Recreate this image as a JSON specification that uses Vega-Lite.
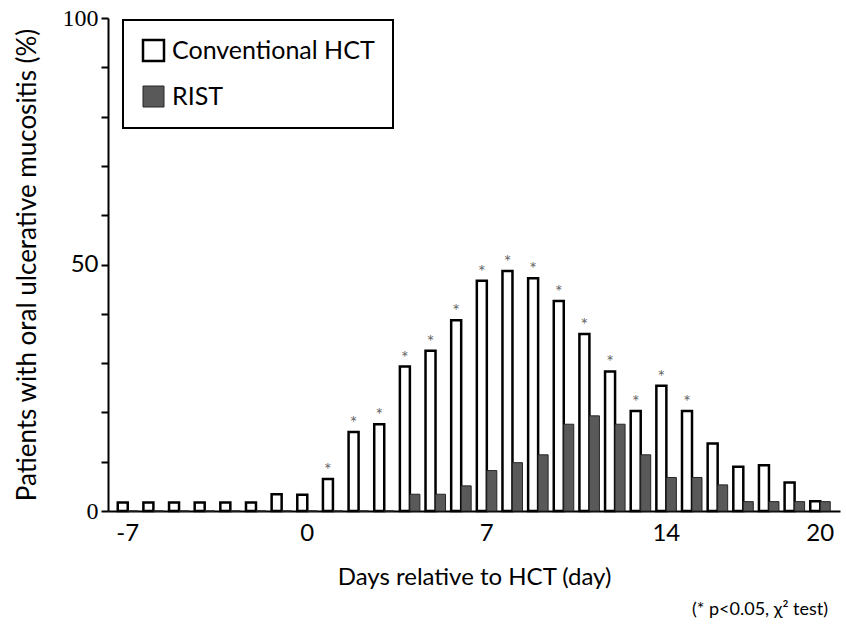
{
  "$schema": "https://vega.github.io/schema/vega-lite/v6.json",
  "width": 732,
  "height": 493,
  "autosize": {"type": "none"},
  "padding": {"left": 108, "top": 18, "right": 6, "bottom": 114},
  "background": "white",
  "title": {"text": "(* p<0.05, χ² test)", "orient": "bottom", "anchor": "end", "font": "Lato", "fontSize": 18, "fontWeight": "normal", "color": "black", "offset": 12, "dx": -12},
  "config": {
    "view": {"stroke": null},
    "legend": {"strokeWidth": 2},
    "axis": {"grid": false, "domainColor": "black", "domainWidth": 2, "labelColor": "black", "titleColor": "black", "titleFont": "Lato", "titleFontWeight": "normal"},
    "axisY": {"ticks": true, "tickSize": 7, "tickWidth": 2, "tickColor": "black"}
  },
  "data": {"values": [
    {"day": -7, "series": "Conventional HCT", "value": 1.7, "sig": false},
    {"day": -6, "series": "Conventional HCT", "value": 1.7, "sig": false},
    {"day": -5, "series": "Conventional HCT", "value": 1.7, "sig": false},
    {"day": -4, "series": "Conventional HCT", "value": 1.7, "sig": false},
    {"day": -3, "series": "Conventional HCT", "value": 1.7, "sig": false},
    {"day": -2, "series": "Conventional HCT", "value": 1.7, "sig": false},
    {"day": -1, "series": "Conventional HCT", "value": 3.4, "sig": false},
    {"day": 0, "series": "Conventional HCT", "value": 3.3, "sig": false},
    {"day": 1, "series": "Conventional HCT", "value": 6.5, "sig": true},
    {"day": 2, "series": "Conventional HCT", "value": 16.0, "sig": true},
    {"day": 3, "series": "Conventional HCT", "value": 17.6, "sig": true},
    {"day": 4, "series": "Conventional HCT", "value": 29.3, "sig": true},
    {"day": 5, "series": "Conventional HCT", "value": 32.5, "sig": true},
    {"day": 6, "series": "Conventional HCT", "value": 38.7, "sig": true},
    {"day": 7, "series": "Conventional HCT", "value": 46.7, "sig": true},
    {"day": 8, "series": "Conventional HCT", "value": 48.7, "sig": true},
    {"day": 9, "series": "Conventional HCT", "value": 47.2, "sig": true},
    {"day": 10, "series": "Conventional HCT", "value": 42.6, "sig": true},
    {"day": 11, "series": "Conventional HCT", "value": 35.9, "sig": true},
    {"day": 12, "series": "Conventional HCT", "value": 28.3, "sig": true},
    {"day": 13, "series": "Conventional HCT", "value": 20.3, "sig": true},
    {"day": 14, "series": "Conventional HCT", "value": 25.4, "sig": true},
    {"day": 15, "series": "Conventional HCT", "value": 20.3, "sig": true},
    {"day": 16, "series": "Conventional HCT", "value": 13.7, "sig": false},
    {"day": 17, "series": "Conventional HCT", "value": 9.0, "sig": false},
    {"day": 18, "series": "Conventional HCT", "value": 9.3, "sig": false},
    {"day": 19, "series": "Conventional HCT", "value": 5.8, "sig": false},
    {"day": 20, "series": "Conventional HCT", "value": 2.0, "sig": false},
    {"day": -7, "series": "RIST", "value": 0, "sig": false},
    {"day": -6, "series": "RIST", "value": 0, "sig": false},
    {"day": -5, "series": "RIST", "value": 0, "sig": false},
    {"day": -4, "series": "RIST", "value": 0, "sig": false},
    {"day": -3, "series": "RIST", "value": 0, "sig": false},
    {"day": -2, "series": "RIST", "value": 0, "sig": false},
    {"day": -1, "series": "RIST", "value": 0, "sig": false},
    {"day": 0, "series": "RIST", "value": 0, "sig": false},
    {"day": 1, "series": "RIST", "value": 0, "sig": false},
    {"day": 2, "series": "RIST", "value": 0, "sig": false},
    {"day": 3, "series": "RIST", "value": 0, "sig": false},
    {"day": 4, "series": "RIST", "value": 3.4, "sig": false},
    {"day": 5, "series": "RIST", "value": 3.4, "sig": false},
    {"day": 6, "series": "RIST", "value": 5.1, "sig": false},
    {"day": 7, "series": "RIST", "value": 8.2, "sig": false},
    {"day": 8, "series": "RIST", "value": 9.8, "sig": false},
    {"day": 9, "series": "RIST", "value": 11.4, "sig": false},
    {"day": 10, "series": "RIST", "value": 17.6, "sig": false},
    {"day": 11, "series": "RIST", "value": 19.3, "sig": false},
    {"day": 12, "series": "RIST", "value": 17.6, "sig": false},
    {"day": 13, "series": "RIST", "value": 11.4, "sig": false},
    {"day": 14, "series": "RIST", "value": 6.8, "sig": false},
    {"day": 15, "series": "RIST", "value": 6.8, "sig": false},
    {"day": 16, "series": "RIST", "value": 5.3, "sig": false},
    {"day": 17, "series": "RIST", "value": 1.9, "sig": false},
    {"day": 18, "series": "RIST", "value": 1.9, "sig": false},
    {"day": 19, "series": "RIST", "value": 1.9, "sig": false},
    {"day": 20, "series": "RIST", "value": 1.9, "sig": false}
  ]},
  "encoding": {
    "x": {
      "field": "day", "type": "ordinal", "sort": "ascending",
      "scale": {"paddingInner": 0.22, "paddingOuter": 0.38},
      "axis": {
        "title": "Days relative to HCT (day)",
        "titleFontSize": 24,
        "labelAngle": 0,
        "labelExpr": "indexof([-7, 0, 7, 14, 20], datum.value) >= 0 ? datum.label : ''",
        "ticks": false,
        "labelFont": "Lato", "labelFontSize": 24, "labelPadding": 10,
        "titlePadding": 20
      }
    },
    "xOffset": {"field": "series", "type": "nominal", "scale": {"domain": ["Conventional HCT", "RIST"]}},
    "y": {
      "field": "value", "type": "quantitative",
      "scale": {"domain": [0, 100], "nice": false},
      "axis": {
        "title": "Patients with oral ulcerative mucositis (%)",
        "titleFontSize": 26,
        "tickCount": 10,
        "labelExpr": "datum.value % 50 == 0 ? datum.label : ''",
        "labelFontSize": 24,
        "labelFont": {"condition": {"test": "datum.value == 50", "value": "Lato"}, "value": "Liberation Serif"},
        "labelPadding": 3,
        "titlePadding": 22
      }
    }
  },
  "layer": [
    {
      "mark": {"type": "bar", "strokeJoin": "miter"},
      "encoding": {
        "color": {
          "field": "series", "type": "nominal",
          "scale": {"domain": ["Conventional HCT", "RIST"], "range": ["white", "#595959"]},
          "legend": {
            "title": null, "orient": "none", "legendX": 15, "legendY": 2,
            "symbolType": "square", "symbolSize": 441, "symbolStrokeColor": "black", "symbolStrokeWidth": 2.5, "symbolOpacity": 1,
            "labelFont": "Lato", "labelFontSize": 25, "labelColor": "black", "labelOffset": 6, "labelLimit": 500,
            "rowPadding": 18, "padding": 18, "strokeColor": "black", "fillColor": "white"
          }
        },
        "stroke": {
          "field": "series", "type": "nominal",
          "scale": {"domain": ["Conventional HCT", "RIST"], "range": ["black", "#262626"]},
          "legend": null
        },
        "strokeWidth": {
          "field": "series", "type": "nominal",
          "scale": {"domain": ["Conventional HCT", "RIST"], "range": [2.5, 1]},
          "legend": null
        }
      }
    },
    {
      "transform": [{"filter": "datum.sig"}],
      "mark": {"type": "text", "text": "*", "font": "Lato", "fontSize": 18, "color": "#666666", "baseline": "alphabetic", "dy": -3}
    }
  ]
}
